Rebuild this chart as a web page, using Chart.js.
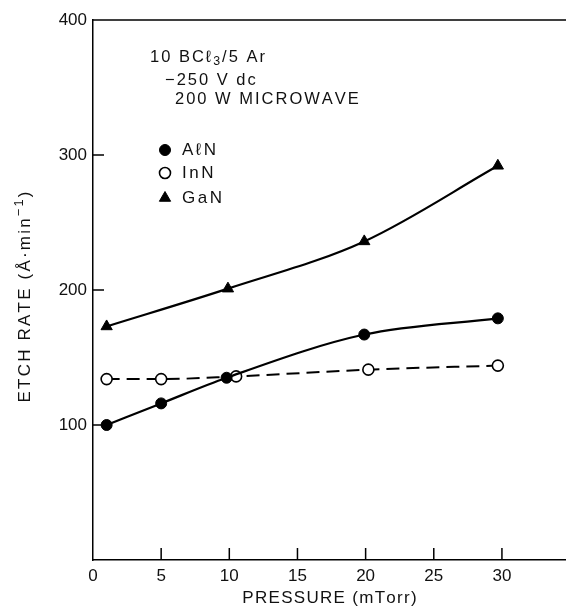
<!DOCTYPE html>
<html>
<head>
<meta charset="utf-8">
<script src="https://cdn.jsdelivr.net/npm/chart.js@4/dist/chart.umd.min.js"></script>
<style>
  html, body { margin: 0; padding: 0; background: #fff; }
  #wrap { width: 566px; height: 608px; }
</style>
</head>
<body>
<div id="wrap"><canvas id="myChart"></canvas></div>
<script>
// data
const alnX = [1, 5, 9.8, 19.9, 29.7];
const alnY = [100, 116, 135, 167, 179];
const innX = [1, 5, 10.5, 20.2, 29.7];
const innY = [134, 134, 136, 141, 144];
const ganX = [1, 9.9, 19.9, 29.7];
const ganY = [173, 201, 236, 292];

const xTicks = [5, 10, 15, 20, 25, 30];
const yTicks = [100, 200, 300];

const legendLabels = ['A\u2113N', 'InN', 'GaN'];

const FONT = "'Liberation Sans', Arial, sans-serif";
const INK = '#111';

const toPts = (xs, ys) => xs.map((x, i) => ({ x: x, y: ys[i] }));

// draws text pieces char by char with extra spacing (old typewriter look)
function segWidth(ctx, segs, size, sp) {
  let w = 0;
  segs.forEach(s => {
    const fs = s.sub || s.sup ? size * 0.75 : size;
    ctx.font = fs + 'px ' + FONT;
    for (const ch of s.t) w += ctx.measureText(ch).width + sp;
  });
  return w - sp;
}

function drawSegs(ctx, segs, x, y, size, sp) {
  let cx = x;
  segs.forEach(s => {
    const fs = s.sub || s.sup ? size * 0.75 : size;
    const dy = s.sub ? size * 0.3 : s.sup ? -size * 0.35 : 0;
    ctx.font = fs + 'px ' + FONT;
    for (const ch of s.t) {
      ctx.fillText(ch, cx, y + dy);
      cx += ctx.measureText(ch).width + sp;
    }
  });
}

const notes = [
  { segs: [{ t: '10 BC\u2113' }, { t: '3', sub: true }, { t: '/5 Ar' }], x: 150, y: 57 },
  { segs: [{ t: '\u2212250 V dc' }], x: 165, y: 80 },
  { segs: [{ t: '200 W MICROWAVE' }], x: 175, y: 99 }
];

// inward ticks, top frame line, titles, notes and legend
const extras = {
  id: 'extras',
  afterDraw(chart) {
    const ctx = chart.ctx;
    const a = chart.chartArea;
    const xs = chart.scales.x, ys = chart.scales.y;
    ctx.save();
    ctx.strokeStyle = '#000';
    ctx.lineWidth = 1.5;
    ctx.beginPath();
    ctx.moveTo(a.left, a.top);
    ctx.lineTo(a.right, a.top);
    xTicks.forEach(v => {
      const px = xs.getPixelForValue(v);
      ctx.moveTo(px, a.bottom);
      ctx.lineTo(px, a.bottom - 12);
    });
    yTicks.forEach(v => {
      const py = ys.getPixelForValue(v);
      ctx.moveTo(a.left, py);
      ctx.lineTo(a.left + 11, py);
    });
    ctx.stroke();

    ctx.fillStyle = INK;
    ctx.textBaseline = 'middle';
    ctx.textAlign = 'left';

    // axis titles
    const xt = [{ t: 'PRESSURE (mTorr)' }];
    const xw = segWidth(ctx, xt, 17, 1.3);
    drawSegs(ctx, xt, (a.left + a.right) / 2 - xw / 2, 598, 17, 1.3);

    const yt = [{ t: 'ETCH RATE (\u00C5\u00B7min' }, { t: '\u22121', sup: true }, { t: ')' }];
    const yw = segWidth(ctx, yt, 17, 2.2);
    ctx.save();
    ctx.translate(25, 297);
    ctx.rotate(-Math.PI / 2);
    drawSegs(ctx, yt, -yw / 2, 0, 17, 2.2);
    ctx.restore();

    // condition notes
    notes.forEach(n => drawSegs(ctx, n.segs, n.x, n.y, 16.5, 2));

    // legend
    const legY = [150, 173, 198];
    chart.data.datasets.forEach((ds, i) => {
      ctx.fillStyle = ds.pointBackgroundColor;
      ctx.strokeStyle = '#000';
      ctx.lineWidth = ds.pointBorderWidth;
      Chart.helpers.drawPoint(ctx, {
        pointStyle: ds.pointStyle,
        radius: ds.pointRadius,
        rotation: 0,
        borderWidth: ds.pointBorderWidth
      }, 165, legY[i]);
      ctx.fillStyle = INK;
      drawSegs(ctx, [{ t: legendLabels[i] }], 182, legY[i], 17, 2.5);
    });
    ctx.restore();
  }
};

new Chart('myChart', {
  type: 'scatter',
  data: {
    datasets: [
      {
        label: legendLabels[0],
        data: toPts(alnX, alnY),
        showLine: true,
        borderColor: '#000',
        borderWidth: 2.2,
        cubicInterpolationMode: 'monotone',
        pointStyle: 'circle',
        pointRadius: 5.5,
        pointBackgroundColor: '#000',
        pointBorderColor: '#000',
        pointBorderWidth: 1
      },
      {
        label: legendLabels[1],
        data: toPts(innX, innY),
        showLine: true,
        borderColor: '#000',
        borderWidth: 2,
        borderDash: [13, 7],
        cubicInterpolationMode: 'monotone',
        pointStyle: 'circle',
        pointRadius: 5.5,
        pointBackgroundColor: '#fff',
        pointBorderColor: '#000',
        pointBorderWidth: 1.6
      },
      {
        label: legendLabels[2],
        data: toPts(ganX, ganY),
        showLine: true,
        borderColor: '#000',
        borderWidth: 2.2,
        cubicInterpolationMode: 'monotone',
        pointStyle: 'triangle',
        pointRadius: 6.5,
        pointBackgroundColor: '#000',
        pointBorderColor: '#000',
        pointBorderWidth: 1
      }
    ]
  },
  options: {
    responsive: true,
    maintainAspectRatio: false,
    animation: false,
    layout: { autoPadding: false, padding: { top: 20, right: 0, left: 0, bottom: 0 } },
    plugins: {
      legend: { display: false },
      tooltip: { enabled: false }
    },
    scales: {
      x: {
        type: 'linear',
        min: 0,
        max: 34.7,
        afterFit: s => { s.height = 48; s.paddingRight = 0; s.paddingLeft = 0; },
        border: { display: true, color: '#000', width: 1.5 },
        grid: { display: false, drawTicks: false },
        ticks: {
          stepSize: 5,
          padding: 6,
          color: INK,
          font: { family: FONT, size: 17 },
          maxRotation: 0,
          callback: v => (v <= 30 && v % 5 === 0 ? String(v) : null)
        },
        title: { display: false }
      },
      y: {
        min: 0,
        max: 400,
        afterFit: s => { s.width = 93; s.paddingTop = 0; s.paddingBottom = 0; },
        border: { display: true, color: '#000', width: 1.5 },
        grid: { display: false, drawTicks: false },
        ticks: {
          stepSize: 100,
          padding: 6,
          color: INK,
          font: { family: FONT, size: 17 },
          callback: v => (v === 0 ? null : String(v))
        },
        title: { display: false }
      }
    }
  },
  plugins: [extras]
});
</script>
</body>
</html>
